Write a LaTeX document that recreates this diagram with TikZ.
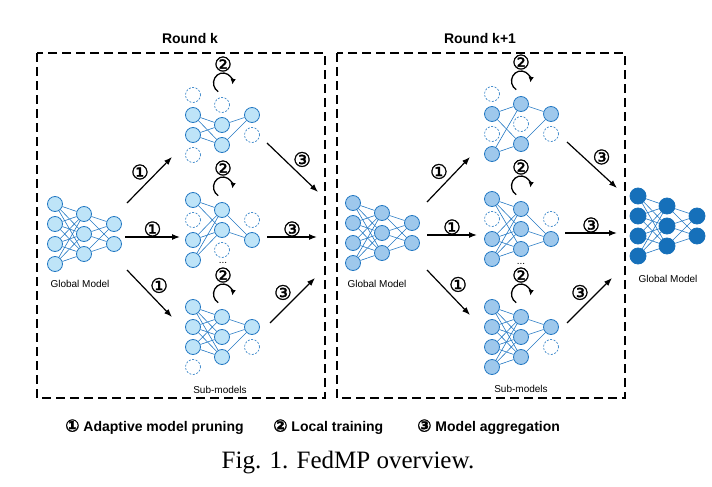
\documentclass[tikz,border=0pt]{standalone}
\usepackage{fontspec}
\setmainfont{Liberation Serif}
\setsansfont{Liberation Sans}
\newfontfamily\circfont[FakeBold=1.5]{DejaVu Sans}
\usetikzlibrary{arrows.meta,calc}

\definecolor{netblue}{RGB}{35,120,195}
\definecolor{kfill}{RGB}{190,228,248}
\definecolor{rfill}{RGB}{158,200,236}
\definecolor{ffill}{RGB}{22,112,186}

\tikzset{
ks/.style={circle,draw=netblue,fill=kfill,line width=0.8pt,minimum size=15pt,inner sep=0pt},
kd/.style={ks,fill=white,line width=0.6pt,dash pattern=on 2pt off 1.5pt},
rs/.style={ks,fill=rfill},
rd/.style={kd},
fs/.style={ks,fill=ffill,draw=ffill,minimum size=16pt},
wire/.style={netblue,line width=0.6pt},
flow/.style={line width=1.2pt,-{Latex[length=8pt,width=6pt]}},
loopy/.style={line width=1.3pt,-{Latex[length=5.5pt,width=5.5pt]}},
num/.style={font=\circfont\fontsize{20}{20}\selectfont,inner sep=0pt},
frame/.style={line width=1.4pt,dash pattern=on 9pt off 5pt},
lbl/.style={font=\sffamily\fontsize{10}{12}\selectfont},
roundlbl/.style={font=\sffamily\bfseries\fontsize{14}{16}\selectfont},
legend/.style={font=\sffamily\bfseries\fontsize{14}{16}\selectfont,anchor=west,inner sep=0pt}
}

%network: name, x of first layer, y of centre, styles of the three layers
\newcommand{\net}[6]{%
\foreach \s [count=\i] in {#4} \node[\s] (#1-1-\i) at (#2,#3-50+20*\i) {};
\foreach \s [count=\i] in {#5} \node[\s] (#1-2-\i) at (#2+29,#3-40+20*\i) {};
\foreach \s [count=\i] in {#6} \node[\s] (#1-3-\i) at (#2+59,#3-30+20*\i) {};
}
%wires between two layers
\newcommand{\links}[5]{\foreach \a in {#4}{\foreach \b in {#5}{\draw[wire] (#1-#2-\a) -- (#1-#3-\b);}}}
%local training mark over a sub-model
\newcommand{\train}[3]{%
\node[num] (#1) at (#2,#3) {②};
\draw[loopy] ($(#1)+(0,19)+(120:9.5 and 10)$) arc[start angle=120,end angle=368,x radius=9.5,y radius=10];
}

\begin{document}
\begin{tikzpicture}[x=1pt,y=-1pt]
\useasboundingbox (0,0) rectangle (712,487);
%Rounds
\draw[frame] (37,53) rectangle (325,398);
\draw[frame] (337,53) rectangle (625,398);
\node[roundlbl] (tk) at (190,38) {Round k};
\node[roundlbl] (tk1) at (480,38) {Round k+1};
%Global model, round k
\net{gk}{55}{234}{ks,ks,ks,ks}{ks,ks,ks}{ks,ks}
\links{gk}{1}{2}{1,2,3,4}{1,2,3}
\links{gk}{2}{3}{1,2,3}{1,2}
\node[lbl] (gklbl) at (80,284) {Global Model};
%Sub-models, round k
\net{ka}{193}{125}{kd,ks,ks,kd}{kd,ks,ks}{ks,kd}
\links{ka}{1}{2}{2,3}{2,3}
\links{ka}{2}{3}{2,3}{1}
\net{kb}{193}{230}{ks,kd,ks,ks}{ks,ks,kd}{kd,ks}
\links{kb}{1}{2}{1,3,4}{1,2}
\links{kb}{2}{3}{1,2}{2}
\net{kc}{193}{337}{ks,ks,ks,kd}{ks,ks,ks}{ks,kd}
\links{kc}{1}{2}{1,2,3}{1,2,3}
\links{kc}{2}{3}{1,2,3}{1}
\train{tka}{223}{64}
\train{tkb}{223}{168}
\train{tkc}{223}{275}
\node[lbl] (kdots) at (223,263) {...};
\node[lbl] (kslbl) at (220,390) {Sub-models};
%Global model, round k+1
\net{gr}{353}{233}{rs,rs,rs,rs}{rs,rs,rs}{rs,rs}
\links{gr}{1}{2}{1,2,3,4}{1,2,3}
\links{gr}{2}{3}{1,2,3}{1,2}
\node[lbl] (grlbl) at (377,284) {Global Model};
%Sub-models, round k+1
\net{ra}{492}{124}{rd,rs,rd,rs}{rs,rd,rs}{rs,rd}
\links{ra}{1}{2}{2,4}{1,3}
\links{ra}{2}{3}{1,3}{1}
\net{rb}{492}{229}{rs,rd,rs,rs}{rs,rs,rs}{rd,rs}
\links{rb}{1}{2}{1,3,4}{1,2,3}
\links{rb}{2}{3}{1,2,3}{2}
\net{rc}{492}{337}{rs,rs,rs,rs}{rs,rs,rs}{rs,rd}
\links{rc}{1}{2}{1,2,3,4}{1,2,3}
\links{rc}{2}{3}{1,2,3}{1}
\train{tra}{521}{62}
\train{trb}{521}{167}
\train{trc}{521}{275}
\node[lbl] (rdots) at (521,264) {...};
\node[lbl] (rslbl) at (521,389) {Sub-models};
%Aggregated global model
\net{gf}{638}{226}{fs,fs,fs,fs}{fs,fs,fs}{fs,fs}
\links{gf}{1}{2}{1,2,3,4}{1,2,3}
\links{gf}{2}{3}{1,2,3}{1,2}
\node[lbl] (gflbl) at (668,279) {Global Model};
%Pruning and aggregation arrows
\foreach \n/\xa/\ya/\xb/\yb/\t/\p in {
pa/127/203/172/157/①/above left, pb/125/237/180/237/①/above, pc/127/270/172/317/①/above right,
qa/267/143/318/192/③/above right, qb/267/237/317/237/③/above, qc/270/323/315/278/③/above left,
ra/427/202/470/157/①/above left, rb/427/235/477/235/①/above, rc/427/270/470/315/①/above right,
sa/567/142/617/188/③/above right, sb/565/233/617/233/③/above, sc/567/323/612/278/③/above left}{
\coordinate (\n s) at (\xa,\ya);
\coordinate (\n e) at (\xb,\yb);
\draw[flow] (\n s) -- node[num,\p] {\t} (\n e);
}
%Legend and caption
\node[legend] (lg1) at (65,427) {{\circfont\fontsize{17}{17}\selectfont ①} Adaptive model pruning};
\node[legend] (lg2) at (273,427) {{\circfont\fontsize{17}{17}\selectfont ②} Local training};
\node[legend] (lg3) at (417,427) {{\circfont\fontsize{17}{17}\selectfont ③} Model aggregation};
\node[font=\fontsize{25}{30}\selectfont] (fig) at (348,463) {Fig. 1. FedMP overview.};
\end{tikzpicture}
\end{document}
